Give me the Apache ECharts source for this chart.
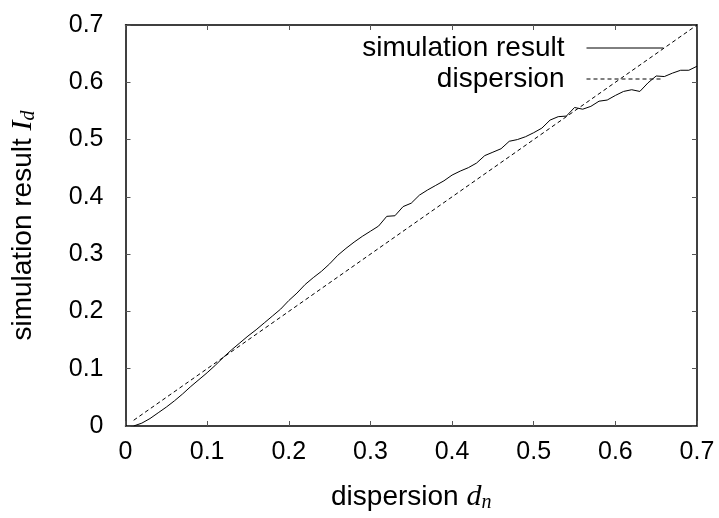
<!DOCTYPE html>
<html>
<head>
<meta charset="utf-8">
<script src="https://cdn.jsdelivr.net/npm/echarts@6/dist/echarts.min.js"></script>
<style>html,body{margin:0;padding:0;background:#fff}#c{width:719px;height:518px}</style>
</head>
<body>
<div id="c"></div>
<script>
var dispersionX = [0.01,0.02,0.03,0.04,0.05,0.06,0.07,0.08,0.09,0.10,0.11,0.12,0.13,0.14,0.15,0.16,0.17,0.18,0.19,0.20,0.21,0.22,0.23,0.24,0.25,0.26,0.27,0.28,0.29,0.30,0.31,0.32,0.33,0.34,0.35,0.36,0.37,0.38,0.39,0.40,0.41,0.42,0.43,0.44,0.45,0.46,0.47,0.48,0.49,0.50,0.51,0.52,0.53,0.54,0.55,0.56,0.57,0.58,0.59,0.60,0.61,0.62,0.63,0.64,0.65,0.66,0.67,0.68,0.69,0.70];
var simulationY = [0.000,0.005,0.013,0.023,0.033,0.044,0.056,0.069,0.081,0.093,0.106,0.120,0.133,0.145,0.157,0.168,0.180,0.192,0.204,0.219,0.232,0.247,0.259,0.270,0.283,0.298,0.310,0.321,0.331,0.340,0.349,0.366,0.367,0.383,0.389,0.403,0.412,0.420,0.428,0.438,0.445,0.451,0.459,0.472,0.478,0.484,0.497,0.500,0.505,0.512,0.520,0.534,0.540,0.541,0.556,0.553,0.558,0.567,0.569,0.577,0.584,0.587,0.584,0.599,0.611,0.610,0.616,0.621,0.621,0.628];
var dispersionLineX = [0.01, 0.70];
var dispersionLineY = [0.01, 0.70];
var seriesNames = ['simulation result', 'dispersion'];

var simData = dispersionX.map(function (x, i) { return [x, simulationY[i]]; });
var dispData = dispersionLineX.map(function (x, i) { return [x, dispersionLineY[i]]; });

var FONT = 'Liberation Sans';
var chart = echarts.init(document.getElementById('c'), null, {renderer: 'canvas'});
var tickStyle = {show: true, inside: true, length: 5, lineStyle: {color: '#555', width: 1}};
var lineAx = {show: true, onZero: false, lineStyle: {color: '#000', width: 1.5}};
var richTitle = {
  t: {fontFamily: FONT, fontSize: 28, color: '#000'},
  i: {fontFamily: 'Liberation Serif', fontStyle: 'italic', fontSize: 30, color: '#000'},
  s: {fontFamily: 'Liberation Serif', fontStyle: 'italic', fontSize: 20, color: '#000', padding: [11, 0, 0, 0]}
};
chart.setOption({
  animation: false,
  backgroundColor: '#fff',
  grid: {left: 124, right: 22, top: 25, bottom: 87},
  legend: {
    right: 50, top: 29, orient: 'vertical', align: 'right',
    itemWidth: 77, itemHeight: 14, itemGap: 3,
    itemStyle: {opacity: 0},
    lineStyle: {width: 1},
    textStyle: {fontFamily: FONT, fontSize: 28, color: '#000', padding: [0, 17, 0, 0]},
    data: seriesNames
  },
  xAxis: [{
    type: 'value', min: 0, max: 0.7, interval: 0.1, position: 'bottom',
    axisLine: lineAx, axisTick: tickStyle, splitLine: {show: false},
    axisLabel: {fontFamily: FONT, fontSize: 25, color: '#000', margin: 14},
    name: '{t|dispersion }{i|d}{s|n}', nameLocation: 'middle', nameGap: 56,
    nameTextStyle: {rich: richTitle}
  }, {
    type: 'value', min: 0, max: 0.7, interval: 0.1, position: 'top',
    axisLine: lineAx, axisTick: tickStyle, axisLabel: {show: false}, splitLine: {show: false}
  }],
  yAxis: [{
    type: 'value', min: 0, max: 0.7, interval: 0.1, position: 'left',
    axisLine: lineAx, axisTick: tickStyle, splitLine: {show: false},
    axisLabel: {fontFamily: FONT, fontSize: 25, color: '#000', margin: 22},
    name: '{t|simulation result }{i|I}{s|d}', nameLocation: 'middle', nameGap: 87,
    nameTextStyle: {rich: richTitle}
  }, {
    type: 'value', min: 0, max: 0.7, interval: 0.1, position: 'right',
    axisLine: lineAx, axisTick: tickStyle, axisLabel: {show: false}, splitLine: {show: false}
  }],
  series: [{
    name: seriesNames[0], type: 'line', data: simData, showSymbol: false, symbol: 'none',
    lineStyle: {color: '#000', width: 1}, itemStyle: {color: '#000'}
  }, {
    name: seriesNames[1], type: 'line', data: dispData, showSymbol: false, symbol: 'none',
    lineStyle: {color: '#000', width: 1, type: [4, 3]}, itemStyle: {color: '#000'}
  }]
});
</script>
</body>
</html>
